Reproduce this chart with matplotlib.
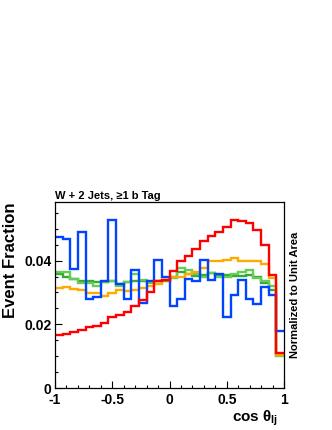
import numpy as np
import matplotlib
matplotlib.use("Agg")
import matplotlib.pyplot as plt
from matplotlib.ticker import MultipleLocator

plt.rcParams['font.family'] = ['Liberation Sans', 'DejaVu Sans']
plt.rcParams['mathtext.fontset'] = 'custom'
plt.rcParams['mathtext.rm'] = 'Liberation Sans:bold'
plt.rcParams['mathtext.it'] = 'Liberation Sans:bold'
plt.rcParams['mathtext.bf'] = 'Liberation Sans:bold'

bin_edges = np.linspace(-1, 1, 31)

blue = [0.0473, 0.0468, 0.0373, 0.0489, 0.0279, 0.0287, 0.0335, 0.0528, 0.0325, 0.0280,
        0.0371, 0.0266, 0.0335, 0.0403, 0.0347, 0.0258, 0.0281, 0.0342, 0.0335, 0.0403,
        0.0339, 0.0358, 0.0223, 0.0292, 0.0340, 0.0281, 0.0263, 0.0316, 0.0291, 0.0178]
red = [0.0167, 0.0168, 0.0175, 0.0183, 0.0193, 0.0196, 0.0204, 0.0223, 0.0228, 0.0240,
       0.0258, 0.0276, 0.0300, 0.0335, 0.0340, 0.0366, 0.0399, 0.0415, 0.0435, 0.0460,
       0.0477, 0.0491, 0.0504, 0.0528, 0.0523, 0.0519, 0.0497, 0.0450, 0.0356, 0.0111]
orange = [0.0314, 0.0316, 0.0311, 0.0309, 0.0298, 0.0298, 0.0288, 0.0298, 0.0309, 0.0303,
          0.0309, 0.0314, 0.0319, 0.0327, 0.0338, 0.0347, 0.0350, 0.0358, 0.0363, 0.0377,
          0.0400, 0.0400, 0.0402, 0.0408, 0.0398, 0.0400, 0.0400, 0.0390, 0.0345, 0.0105]
green_dark = [0.0358, 0.0349, 0.0342, 0.0337, 0.0335, 0.0332, 0.0333, 0.0335, 0.0327, 0.0333,
              0.0337, 0.0335, 0.0332, 0.0335, 0.0337, 0.0348, 0.0364, 0.0358, 0.0352, 0.0355,
              0.0360, 0.0355, 0.0355, 0.0353, 0.0353, 0.0355, 0.0347, 0.0331, 0.0309, 0.0103]
green_light = [0.0363, 0.0363, 0.0342, 0.0330, 0.0330, 0.0319, 0.0334, 0.0337, 0.0319, 0.0333,
               0.0358, 0.0340, 0.0330, 0.0335, 0.0340, 0.0345, 0.0377, 0.0369, 0.0358, 0.0350,
               0.0360, 0.0348, 0.0348, 0.0358, 0.0364, 0.0369, 0.0345, 0.0337, 0.0319, 0.0099]

series = [
    (green_dark, '#33aa33'),
    (green_light, '#66cc55'),
    (orange, '#ffaa00'),
    (blue, '#0044ff'),
    (red, '#ff0000'),
]

fig = plt.figure(figsize=(3.32, 4.30), dpi=100)
ax = fig.add_axes([55/332, 1-388/430, 229/332, 186/430])

for vals, col in series:
    ax.stairs(vals, bin_edges, baseline=None, color=col, linewidth=1.7)

ax.set_xlim(-1, 1)
ax.set_ylim(0, 0.0584)

ax.xaxis.set_minor_locator(MultipleLocator(0.1))
ax.yaxis.set_minor_locator(MultipleLocator(0.005))
ax.set_xticks([-1, -0.5, 0, 0.5, 1])
ax.set_xticklabels(['-1', '-0.5', '0', '0.5', '1'])
ax.set_yticks([0, 0.02, 0.04])
ax.set_yticklabels(['0', '0.02', '0.04'])
ax.tick_params(which='major', direction='in', length=5, width=0.8, labelsize=10)
ax.tick_params(axis='x', which='major', pad=3.5)
ax.tick_params(axis='y', which='major', pad=2.5)
ax.tick_params(which='minor', direction='in', length=2.5, width=0.8)
for lbl in ax.get_xticklabels() + ax.get_yticklabels():
    lbl.set_fontweight('bold')
for sp in ax.spines.values():
    sp.set_linewidth(0.9)

fig.text(11/332, 1-203/430, 'Event Fraction', rotation=90, ha='center', va='top',
         fontsize=12, fontweight='bold')
fig.text(278/332, 1-418/430, r'cos $\theta_{lj}$', ha='right', va='center',
         fontsize=11, fontweight='bold')
fig.text(55/332, 1-196/430, 'W + 2 Jets, ≥1 b Tag', ha='left', va='center',
         fontsize=8, fontweight='bold')
fig.text(295/332, 1-295/430, 'Normalized to Unit Area', rotation=90, ha='center', va='center',
         fontsize=8, fontweight='bold')

fig.savefig('out.png', dpi=100)
